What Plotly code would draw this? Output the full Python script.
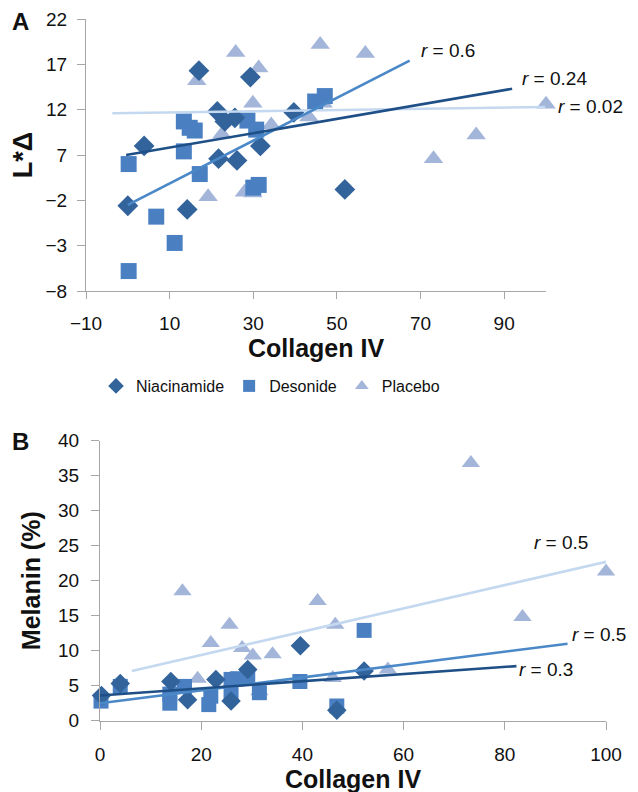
import plotly.graph_objects as go

# ---------------- Panel A data (L*Δ vs Collagen IV) ----------------
nia_A_x = [17.0, 29.3, 3.9, 21.4, 23.2, 25.6, 39.7, 21.7, 26.1, 31.7, 0.0, 14.2, 51.9]
nia_A_y = [16.3, 15.6, 8.0, 11.8, 10.7, 11.1, 11.7, 6.6, 6.4, 8.0, 1.4, 1.0, 3.2]
des_A_x = [0.2, 13.4, 14.8, 16.0, 13.4, 17.2, 28.6, 30.7, 31.3, 30.0, 44.8, 47.1, 6.8, 11.2, 0.2]
des_A_y = [6.0, 10.7, 10.0, 9.7, 7.4, 4.9, 10.8, 9.8, 3.7, 3.4, 12.9, 13.5, 0.2, -2.7, -5.8]
pla_A_x = [25.8, 16.5, 31.3, 46.0, 29.9, 22.5, 34.3, 43.3, 56.8, 100.0, 83.3, 73.1, 46.7, 19.2, 27.9, 29.9]
pla_A_y = [18.3, 15.2, 16.6, 19.2, 12.7, 9.3, 10.3, 11.2, 18.2, 12.6, 9.2, 6.6, 12.7, 2.4, 2.9, 2.8]

fit_nia_A_x = [-0.4, 91.9]
fit_nia_A_y = [7.0, 14.3]
fit_des_A_x = [0.0, 67.4]
fit_des_A_y = [1.5, 17.4]
fit_pla_A_x = [-3.7, 99.8]
fit_pla_A_y = [11.6, 12.3]

A_xrange = [-10, 100]
A_yrange = [-8, 22]
A_xticks = [-10, 10, 30, 50, 70, 90]
A_yticks = [-8, -3, 2, 7, 12, 17, 22]
A_yticktext = ["\u22128", "\u22123", "\u22122", "7", "12", "17", "22"]
A_xticktext = ["\u221210", "10", "30", "50", "70", "90"]

r_A_text = ["r = 0.6", "r = 0.24", "r = 0.02"]
r_A_x = [69.8, 94.0, 102.6]
r_A_y = [18.5, 15.4, 12.3]

# ---------------- Panel B data (Melanin % vs Collagen IV) ----------------
nia_B_x = [0.3, 4.0, 14.0, 17.3, 22.9, 25.9, 29.2, 39.6, 52.2, 46.8]
nia_B_y = [3.6, 5.3, 5.6, 3.0, 5.9, 2.8, 7.3, 10.7, 7.1, 1.5]
des_B_x = [0.2, 4.0, 13.8, 13.8, 16.7, 21.5, 21.9, 25.9, 25.9, 27.2, 29.2, 31.5, 39.5, 46.8, 52.2]
des_B_y = [2.8, 4.9, 2.5, 3.8, 4.9, 2.3, 3.5, 5.9, 4.0, 6.0, 6.1, 4.0, 5.6, 2.1, 12.9]
pla_B_x = [16.3, 43.0, 25.6, 46.5, 21.9, 28.1, 30.2, 34.1, 19.3, 46.0, 56.9, 31.5, 83.5, 73.3, 100.0]
pla_B_y = [18.5, 17.1, 13.7, 13.7, 11.1, 10.4, 9.3, 9.5, 6.0, 6.1, 7.3, 4.2, 14.8, 36.8, 21.3]

fit_nia_B_x = [0.0, 82.3]
fit_nia_B_y = [3.6, 7.8]
fit_des_B_x = [0.0, 92.4]
fit_des_B_y = [2.5, 11.0]
fit_pla_B_x = [6.3, 100.0]
fit_pla_B_y = [7.1, 22.7]

B_xrange = [0, 100]
B_yrange = [0, 40]

r_B_text = ["r = 0.5", "r = 0.5", "r = 0.3"]
r_B_x = [85.6, 93.0, 82.6]
r_B_y = [25.4, 12.3, 7.3]

series_names = ["Niacinamide", "Desonide", "Placebo"]

# ---------------- styles ----------------
FONT = "Liberation Sans, Arial, sans-serif"
C_NIA = "#33639b"
C_DES = "#4a80c2"
C_PLA = "#a3b6da"
L_NIA = "#1e4f86"
L_DES = "#4a88c8"
L_PLA = "#c4d8ef"
AXC = "#a6a6a6"

fig = go.Figure()

def markers(x, y, name, color, symbol, size, xa, ya, show):
    fig.add_trace(go.Scatter(
        x=x, y=y, mode="markers", name=name, legendgroup=name, showlegend=show,
        marker=dict(color=color, symbol=symbol, size=size, line=dict(width=0)),
        xaxis=xa, yaxis=ya, cliponaxis=False))

def fitline(x, y, name, color, xa, ya):
    fig.add_trace(go.Scatter(
        x=x, y=y, mode="lines", name=name + " fit", legendgroup=name, showlegend=False,
        line=dict(color=color, width=2.6), xaxis=xa, yaxis=ya, cliponaxis=False))

# Panel A
markers(pla_A_x, pla_A_y, series_names[2], C_PLA, "triangle-up", 17, "x", "y", False)
markers(des_A_x, des_A_y, series_names[1], C_DES, "square", 16, "x", "y", False)
markers(nia_A_x, nia_A_y, series_names[0], C_NIA, "diamond", 16, "x", "y", False)
fitline(fit_pla_A_x, fit_pla_A_y, series_names[2], L_PLA, "x", "y")
fitline(fit_des_A_x, fit_des_A_y, series_names[1], L_DES, "x", "y")
fitline(fit_nia_A_x, fit_nia_A_y, series_names[0], L_NIA, "x", "y")

# Panel B
markers(pla_B_x, pla_B_y, series_names[2], C_PLA, "triangle-up", 16, "x2", "y2", False)
markers(des_B_x, des_B_y, series_names[1], C_DES, "square", 15, "x2", "y2", False)
markers(nia_B_x, nia_B_y, series_names[0], C_NIA, "diamond", 15, "x2", "y2", False)
fitline(fit_pla_B_x, fit_pla_B_y, series_names[2], L_PLA, "x2", "y2")
fitline(fit_des_B_x, fit_des_B_y, series_names[1], L_DES, "x2", "y2")
fitline(fit_nia_B_x, fit_nia_B_y, series_names[0], L_NIA, "x2", "y2")

# legend-only traces in legend order
for nm, col, sym in zip(series_names, [C_NIA, C_DES, C_PLA], ["diamond", "square", "triangle-up"]):
    fig.add_trace(go.Scatter(x=[None], y=[None], mode="markers", name=nm, legendgroup=nm,
                             marker=dict(color=col, symbol=sym, size=14), xaxis="x", yaxis="y"))

W, H = 638, 792
def px_x(p):
    return p / W
def px_y(p):
    return 1 - p / H

axis_common = dict(showline=True, linecolor=AXC, linewidth=1.3, ticks="outside", tickcolor=AXC,
                   tickwidth=1.3, showgrid=False, zeroline=False, automargin=False,
                   tickfont=dict(family=FONT, size=19, color="#111"))

fig.update_layout(
    width=W, height=H, margin=dict(l=0, r=0, t=0, b=0),
    paper_bgcolor="white", plot_bgcolor="white",
    font=dict(family=FONT, color="#111"),
    xaxis=dict(axis_common, domain=[px_x(78), px_x(538)], range=A_xrange, anchor="y",
               tickvals=A_xticks, ticktext=A_xticktext, ticklen=7, ticklabelstandoff=8,
               title=dict(text="<b>Collagen IV</b>", font=dict(family=FONT, size=25), standoff=2)),
    yaxis=dict(axis_common, domain=[px_y(283), px_y(11)], range=A_yrange, anchor="x",
               tickvals=A_yticks, ticktext=A_yticktext, ticklen=8, ticklabelstandoff=6,
               title=dict(text="<b>L*\u0394</b>", font=dict(family=FONT, size=27), standoff=10)),
    xaxis2=dict(axis_common, domain=[px_x(92), px_x(598)], range=B_xrange, anchor="y2",
                dtick=20, tick0=0, ticklen=8, ticklabelstandoff=8,
                title=dict(text="<b>Collagen IV</b>", font=dict(family=FONT, size=25), standoff=1)),
    yaxis2=dict(axis_common, domain=[px_y(712.7), px_y(432.7)], range=B_yrange, anchor="x2",
                dtick=5, tick0=0, ticklen=8, ticklabelstandoff=8,
                title=dict(text="<b>Melanin (%)</b>", font=dict(family=FONT, size=25), standoff=10)),
    legend=dict(orientation="h", x=px_x(88), y=px_y(378), xanchor="left", yanchor="middle",
                font=dict(family=FONT, size=16, color="#111"), bgcolor="rgba(0,0,0,0)",
                itemsizing="constant", traceorder="normal"),
    showlegend=True,
)

def frac(v, rng):
    return (v - rng[0]) / (rng[1] - rng[0])

annots = []
for t, x, y in zip(r_A_text, r_A_x, r_A_y):
    annots.append(dict(x=frac(x, A_xrange), y=frac(y, A_yrange), xref="x domain", yref="y domain",
                       text="<i>r</i>" + t[1:], showarrow=False, borderpad=0,
                       xanchor="left", yanchor="middle", font=dict(family=FONT, size=19, color="#111")))
for t, x, y in zip(r_B_text, r_B_x, r_B_y):
    annots.append(dict(x=frac(x, B_xrange), y=frac(y, B_yrange), xref="x2 domain", yref="y2 domain",
                       text="<i>r</i>" + t[1:], showarrow=False, borderpad=0,
                       xanchor="left", yanchor="middle", font=dict(family=FONT, size=19, color="#111")))
annots.append(dict(x=px_x(2), y=px_y(13), xref="paper", yref="paper", text="<b>A</b>", showarrow=False,
                   xanchor="left", yanchor="middle", font=dict(family=FONT, size=24, color="#111")))
annots.append(dict(x=px_x(2), y=px_y(433), xref="paper", yref="paper", text="<b>B</b>", showarrow=False,
                   xanchor="left", yanchor="middle", font=dict(family=FONT, size=24, color="#111")))
fig.update_layout(annotations=annots)

fig.write_html("out.html")
